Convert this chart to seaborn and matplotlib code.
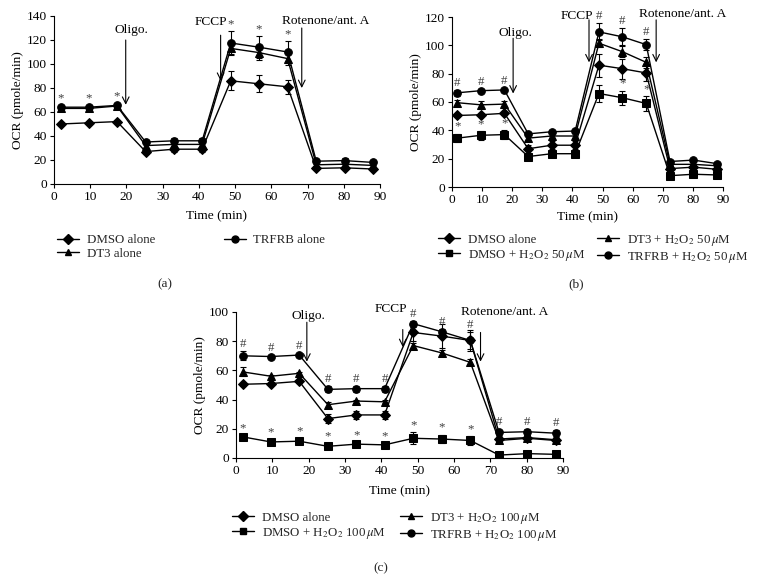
import numpy as np
import pandas as pd
import matplotlib
matplotlib.use("Agg")
import matplotlib.pyplot as plt
from matplotlib.lines import Line2D
import seaborn as sns

sns.set_theme(style="ticks")
plt.rcParams['font.family'] = ['Liberation Serif', 'DejaVu Serif']
plt.rcParams['mathtext.fontset'] = 'stix'

time = [1.8, 9.6, 17.4, 25.3, 33.1, 40.9, 48.8, 56.6, 64.5, 72.4, 80.2, 88.0]

# ---- panel (a)
a_labels = ["DMSO alone", "DT3 alone", "TRFRB alone"]
a_dmso = [50, 51, 52, 27, 29, 29, 86, 83.5, 81, 13, 13.5, 12.5]
a_dt3 = [63, 63, 65, 32, 33, 33, 113, 109.5, 104.5, 16, 16.5, 15.5]
a_trf = [64, 64, 65.5, 35, 36, 36, 117.5, 114, 110, 19, 19.5, 18]
a_dmso_err = [1, 1, 1, 2, 2, 2, 8, 7, 6, 1, 1, 1]
a_dt3_err = [2, 2, 2, 2, 2, 2, 5, 6, 5, 2, 2, 2]
a_trf_err = [2, 2, 2, 2, 2, 2, 10, 9, 9, 2, 2, 2]
a_star_idx = [0, 1, 2, 6, 7, 8]

# ---- panel (b)
b_labels = ["DMSO alone", "DMSO + H$_2$O$_2$ 50$\\,\\mu$M",
            "DT3 + H$_2$O$_2$ 50$\\,\\mu$M", "TRFRB + H$_2$O$_2$ 50$\\,\\mu$M"]
b_dmso = [50.5, 51, 52, 27, 29.5, 29.5, 86, 83.5, 80.5, 13, 14, 12.5]
b_h2o2 = [34.5, 36.5, 37, 21.5, 23.5, 23.5, 66, 63, 59, 8, 9, 8.5]
b_dt3 = [59.5, 58, 58.5, 34.5, 36, 36, 101.5, 95.5, 88, 16, 16, 15]
b_trf = [66.5, 68, 68.5, 37.5, 39, 39.5, 109.5, 106, 100.5, 18, 19, 16.5]
b_dmso_err = [1, 1, 1, 3, 3, 3, 8, 7, 6, 2, 2, 2]
b_h2o2_err = [3, 3, 3, 1, 1, 1, 6, 5, 5, 1, 1, 1]
b_dt3_err = [2, 3, 2, 2, 2, 2, 3, 4, 4, 2, 2, 2]
b_trf_err = [2, 1, 1, 1, 1, 1, 6, 6, 4, 1, 1, 1]
b_hash_idx = [0, 1, 2, 6, 7, 8]
b_star_idx = [0, 1, 2, 7, 8]

# ---- panel (c)
c_labels = ["DMSO alone", "DMSO + H$_2$O$_2$ 100$\\,\\mu$M",
            "DT3 + H$_2$O$_2$ 100$\\,\\mu$M", "TRFRB + H$_2$O$_2$ 100$\\,\\mu$M"]
c_dmso = [50.5, 51, 52.5, 27, 29.5, 29.5, 86, 83.5, 80.5, 13, 14, 12.5]
c_h2o2 = [14.5, 11, 11.5, 8, 9.5, 9, 13.5, 13, 12, 2, 3, 2.5]
c_dt3 = [59, 56, 58, 36.5, 39, 38.5, 77, 72, 65.5, 12, 13.5, 12]
c_trf = [70, 69.5, 70.5, 47, 47.5, 47.5, 92, 86.5, 80.5, 17.5, 18, 17]
c_dmso_err = [1, 1, 1, 3, 3, 3, 6, 8, 7, 2, 2, 2]
c_h2o2_err = [1, 2, 2, 2, 1, 1, 4, 3, 3, 2, 1, 1]
c_dt3_err = [3, 1, 1, 2, 1, 1, 2, 2, 2, 2, 2, 2]
c_trf_err = [3, 1, 1, 2, 2, 2, 2, 2, 6, 2, 2, 2]
c_hash_idx = list(range(12))
c_star_idx = list(range(9))

markers_ordered = {"dmso": "D", "h2o2": "s", "dt3": "^", "trf": "o"}

FS = 9.6
LFS = 9.3

fig = plt.figure(figsize=(7.58, 5.76), dpi=100)
W, H = 758.0, 576.0


def make_ax(x0, x1, y0, y1):
    return fig.add_axes([x0 / W, 1 - y1 / H, (x1 - x0) / W, (y1 - y0) / H])


def draw_panel(ax, series, ymax, events, xlpad):
    rows = []
    for key, lab, vals, err in series:
        for t, v in zip(time, vals):
            rows.append({"time": t, "ocr": v, "series": lab})
    df = pd.DataFrame(rows)
    order = [s[1] for s in series]
    mk = {s[1]: markers_ordered[s[0]] for s in series}
    sns.lineplot(data=df, x="time", y="ocr", hue="series", style="series",
                 hue_order=order, style_order=order,
                 palette={o: "black" for o in order}, markers=mk, dashes=False,
                 lw=1.0, markersize=5.5, markeredgecolor="black",
                 legend=False, ax=ax, errorbar=None)
    for key, lab, vals, err in series:
        ax.errorbar(time, vals, yerr=err, fmt="none", ecolor="black",
                    elinewidth=0.8, capsize=2, capthick=0.8)
    ax.set_xlim(0, 90)
    ax.set_ylim(0, ymax)
    ax.set_xticks(range(0, 91, 10))
    ax.set_yticks(range(0, ymax + 1, 20))
    for s in ["top", "right"]:
        ax.spines[s].set_visible(False)
    for s in ["left", "bottom"]:
        ax.spines[s].set_color("black")
        ax.spines[s].set_linewidth(0.8)
    ax.tick_params(axis="both", direction="out", length=3, width=0.8,
                   colors="black", labelsize=FS, pad=2)
    ax.set_xlabel("Time (min)", fontsize=FS, labelpad=xlpad, color="black")
    ax.set_ylabel("OCR (pmole/min)", fontsize=FS, labelpad=2, color="black")
    for (txt, tx, ty, ax_x, ay0, ay1) in events:
        ax.text(tx, ty, txt, fontsize=FS, ha="center", va="center", color="black",
                clip_on=False)
        ax.annotate("", xy=(ax_x, ay1), xytext=(ax_x, ay0),
                    arrowprops=dict(arrowstyle="->", color="black", lw=0.8,
                                    mutation_scale=12, shrinkA=0, shrinkB=0),
                    annotation_clip=False)


def marks(ax, vals, err, idx, sym):
    for i in idx:
        ax.text(time[i], vals[i] + err[i] + 0.8, sym, fontsize=FS - 0.3,
                ha="center", va="bottom", color="#404040")


# panel (a)
axa = make_ax(54, 380, 16, 184)
draw_panel(axa, [("dmso", a_labels[0], a_dmso, a_dmso_err),
                 ("dt3", a_labels[1], a_dt3, a_dt3_err),
                 ("trf", a_labels[2], a_trf, a_trf_err)], 140,
           [("Oligo.", 21.5, 128, 19.8, 120, 66),
            ("FCCP", 43.2, 135, 46.0, 124, 86),
            ("Rotenone/ant. A", 75, 136, 68.4, 130, 80)], 5)
marks(axa, a_trf, a_trf_err, a_star_idx, "*")

# panel (b)
axb = make_ax(452, 723, 17, 187)
draw_panel(axb, [("dmso", b_labels[0], b_dmso, b_dmso_err),
                 ("h2o2", b_labels[1], b_h2o2, b_h2o2_err),
                 ("dt3", b_labels[2], b_dt3, b_dt3_err),
                 ("trf", b_labels[3], b_trf, b_trf_err)], 120,
           [("Oligo.", 21, 109, 20.3, 105, 66),
            ("FCCP", 41.5, 121, 45.5, 118, 88),
            ("Rotenone/ant. A", 76.5, 122, 67.8, 118, 88)], 4)
marks(axb, b_trf, b_trf_err, b_hash_idx, "#")
marks(axb, b_h2o2, b_h2o2_err, b_star_idx, "*")

# panel (c)
axc = make_ax(236, 563, 312, 458)
draw_panel(axc, [("dmso", c_labels[0], c_dmso, c_dmso_err),
                 ("h2o2", c_labels[1], c_h2o2, c_h2o2_err),
                 ("dt3", c_labels[2], c_dt3, c_dt3_err),
                 ("trf", c_labels[3], c_trf, c_trf_err)], 100,
           [("Oligo.", 20, 97, 19.5, 93, 66),
            ("FCCP", 42.5, 102, 45.9, 88, 76),
            ("Rotenone/ant. A", 74, 100, 67.3, 86, 66)], 6)
marks(axc, c_trf, c_trf_err, c_hash_idx, "#")
marks(axc, c_h2o2, c_h2o2_err, c_star_idx, "*")


def handles(keys, labels):
    return [Line2D([], [], color="black", lw=1.0, marker=markers_ordered[k],
                   markersize=5.0, markerfacecolor="black", markeredgecolor="black")
            for k in keys], labels


h, l = handles(["dmso", "dt3", "trf"], a_labels)
fig.legend(h, l, loc="upper left", bbox_to_anchor=(57 / W, 1 - 234 / H), ncol=2,
           frameon=False, fontsize=LFS, handlelength=1.7, handletextpad=0.6,
           columnspacing=5.3, labelspacing=0.15, borderpad=0, borderaxespad=0)

h, l = handles(["dmso", "h2o2", "dt3", "trf"], b_labels)
fig.legend(h, l, loc="upper left", bbox_to_anchor=(438 / W, 1 - 233 / H), ncol=2,
           frameon=False, fontsize=LFS, handlelength=1.7, handletextpad=0.6,
           columnspacing=0.9, labelspacing=0.15, borderpad=0, borderaxespad=0)

h, l = handles(["dmso", "h2o2", "dt3", "trf"], c_labels)
fig.legend(h, l, loc="upper left", bbox_to_anchor=(232 / W, 1 - 511 / H), ncol=2,
           frameon=False, fontsize=LFS, handlelength=1.7, handletextpad=0.6,
           columnspacing=1.1, labelspacing=0.15, borderpad=0, borderaxespad=0)

fig.text(165 / W, 1 - 284 / H, "(a)", fontsize=FS, ha="center", va="center")
fig.text(576 / W, 1 - 284 / H, "(b)", fontsize=FS, ha="center", va="center")
fig.text(381 / W, 1 - 568 / H, "(c)", fontsize=FS, ha="center", va="center")

fig.savefig("out.png", dpi=100)
